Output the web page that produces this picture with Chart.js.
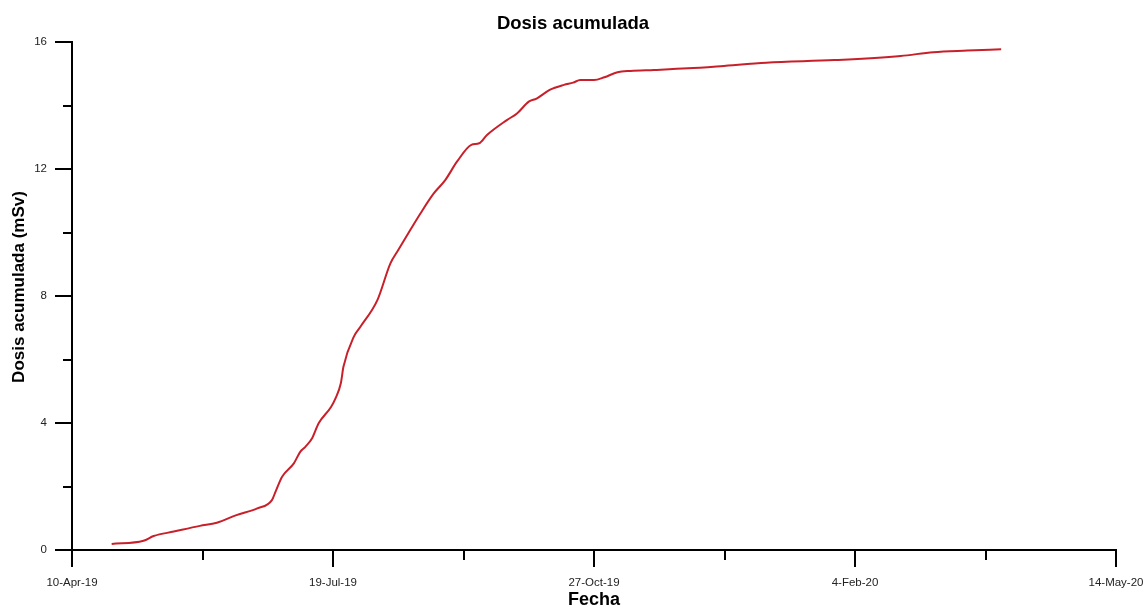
<!DOCTYPE html>
<html>
<head>
<meta charset="utf-8">
<script src="https://cdn.jsdelivr.net/npm/chart.js@4.4.0/dist/chart.umd.min.js"></script>
<style>
html,body{margin:0;padding:0;background:#fff;}
#wrap{width:1146px;height:608px;}
</style>
</head>
<body>
<div id="wrap"><canvas id="c" width="1146" height="608"></canvas></div>
<script>
// Days since 10-Apr-19
const dayOffsets = [15.2, 27.4, 31.3, 39, 49, 55.5, 63, 71, 76.6, 78, 80.5, 85, 87.5, 89.4, 92, 94.5, 99.3, 101, 103, 104, 108, 110.5, 117, 122, 125, 129.6, 133.5, 138.6, 143, 147.5, 153, 156, 159, 166.6, 170.5, 175, 178, 183, 188.5, 192, 194.7, 200, 204, 209, 214, 223, 236, 248.5, 266, 292, 317.5, 330, 343, 356];
// Accumulated dose (mSv)
const doseValues = [0.19, 0.29, 0.44, 0.58, 0.76, 0.86, 1.10, 1.31, 1.57, 1.84, 2.31, 2.73, 3.10, 3.25, 3.52, 3.99, 4.51, 4.78, 5.25, 5.77, 6.72, 7.03, 7.87, 9.03, 9.45, 10.08, 10.60, 11.23, 11.65, 12.23, 12.76, 12.81, 13.07, 13.54, 13.75, 14.12, 14.22, 14.49, 14.65, 14.72, 14.80, 14.80, 14.89, 15.05, 15.09, 15.12, 15.17, 15.24, 15.35, 15.43, 15.56, 15.68, 15.73, 15.77];
const xTickDays = [0, 100, 200, 300, 400];
const xTickLabels = ['10-Apr-19', '19-Jul-19', '27-Oct-19', '4-Feb-20', '14-May-20'];
const yTickValues = [0, 4, 8, 12, 16];

const FONT = "'Liberation Sans', Arial, sans-serif";

const points = dayOffsets.map((d, i) => ({x: d, y: doseValues[i]}));

const tickPlugin = {
  id: 'tickPlugin',
  afterDraw(chart) {
    const ctx = chart.ctx;
    const xs = chart.scales.x, ys = chart.scales.y;
    const ca = chart.chartArea;
    ctx.save();
    ctx.strokeStyle = '#000';
    ctx.lineWidth = 2;
    ctx.beginPath();
    for (let v = 0; v <= 400; v += 50) {
      const px = Math.round(xs.getPixelForValue(v));
      const len = (v % 100 === 0) ? 17 : 10;
      ctx.moveTo(px, ca.bottom);
      ctx.lineTo(px, ca.bottom + len);
    }
    for (let v = 0; v <= 16; v += 2) {
      const py = Math.round(ys.getPixelForValue(v));
      const len = (v % 4 === 0) ? 17 : 9;
      ctx.moveTo(ca.left, py);
      ctx.lineTo(ca.left - len, py);
    }
    ctx.stroke();
    // y axis title
    ctx.fillStyle = '#000';
    ctx.font = "bold 17px " + FONT;
    ctx.textAlign = 'center';
    ctx.textBaseline = 'middle';
    ctx.translate(19, 287);
    ctx.rotate(-Math.PI / 2);
    ctx.fillText('Dosis acumulada (mSv)', 0, 0);
    ctx.restore();
  }
};

new Chart(document.getElementById('c'), {
  type: 'line',
  data: {
    datasets: [{
      data: points,
      borderColor: '#c8202a',
      borderWidth: 2,
      pointRadius: 0,
      cubicInterpolationMode: 'monotone',
      fill: false
    }]
  },
  options: {
    responsive: false,
    animation: false,
    layout: {padding: {left: 0, right: 0, top: 0, bottom: 0}},
    plugins: {
      legend: {display: false},
      tooltip: {enabled: false},
      title: {
        display: true,
        text: 'Dosis acumulada',
        color: '#000',
        font: {family: FONT, size: 18.5, weight: 'bold'},
        padding: {top: 12.8, bottom: 7}
      }
    },
    scales: {
      x: {
        type: 'linear',
        min: 0, max: 400,
        afterBuildTicks(scale) { scale.ticks = xTickDays.map(v => ({value: v})); },
        afterFit(scale) { scale.height = 58; scale.paddingRight = 30; scale.paddingLeft = 0; },
        grid: {display: true, drawOnChartArea: false, drawTicks: false},
        border: {display: true, color: '#000', width: 2},
        ticks: {
          color: '#222',
          font: {family: FONT, size: 11.5},
          padding: 26,
          maxRotation: 0,
          autoSkip: false,
          callback: (v) => { const i = xTickDays.indexOf(v); return i >= 0 ? xTickLabels[i] : ''; }
        },
        title: {
          display: true,
          text: 'Fecha',
          color: '#000',
          font: {family: FONT, size: 18, weight: 'bold'},
          padding: {top: 0, bottom: -3}
        }
      },
      y: {
        type: 'linear',
        min: 0, max: 16,
        afterBuildTicks(scale) { scale.ticks = yTickValues.map(v => ({value: v})); },
        afterFit(scale) { scale.width = 72; scale.paddingTop = 0; scale.paddingBottom = 0; },
        grid: {display: true, drawOnChartArea: false, drawTicks: false},
        border: {display: true, color: '#000', width: 2},
        ticks: {
          color: '#222',
          font: {family: FONT, size: 11.5},
          padding: 25
        }
      }
    }
  },
  plugins: [tickPlugin]
});
</script>
</body>
</html>
